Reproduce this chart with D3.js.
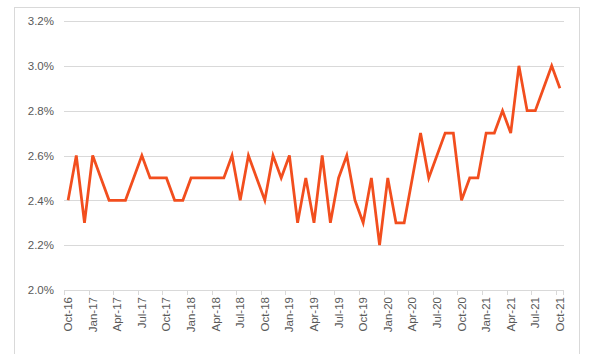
<!DOCTYPE html>
<html>
<head>
<meta charset="utf-8">
<script src="https://cdn.jsdelivr.net/npm/d3@7"></script>
<style>
  html, body { margin: 0; padding: 0; background: #fff; }
  svg { display: block; }
  text { font-family: "Liberation Sans", Arial, sans-serif; fill: #595959; }
</style>
</head>
<body>
<svg id="chart" width="591" height="354"></svg>
<script>
const months = ["Oct-16","Nov-16","Dec-16","Jan-17","Feb-17","Mar-17","Apr-17","May-17","Jun-17","Jul-17","Aug-17","Sep-17",
  "Oct-17","Nov-17","Dec-17","Jan-18","Feb-18","Mar-18","Apr-18","May-18","Jun-18","Jul-18","Aug-18","Sep-18",
  "Oct-18","Nov-18","Dec-18","Jan-19","Feb-19","Mar-19","Apr-19","May-19","Jun-19","Jul-19","Aug-19","Sep-19",
  "Oct-19","Nov-19","Dec-19","Jan-20","Feb-20","Mar-20","Apr-20","May-20","Jun-20","Jul-20","Aug-20","Sep-20",
  "Oct-20","Nov-20","Dec-20","Jan-21","Feb-21","Mar-21","Apr-21","May-21","Jun-21","Jul-21","Aug-21","Sep-21","Oct-21"];
const values = [2.4,2.6,2.3,2.6,2.5,2.4,2.4,2.4,2.5,2.6,2.5,2.5,
  2.5,2.4,2.4,2.5,2.5,2.5,2.5,2.5,2.6,2.4,2.6,2.5,
  2.4,2.6,2.5,2.6,2.3,2.5,2.3,2.6,2.3,2.5,2.6,2.4,
  2.3,2.5,2.2,2.5,2.3,2.3,2.5,2.7,2.5,2.6,2.7,2.7,
  2.4,2.5,2.5,2.7,2.7,2.8,2.7,3.0,2.8,2.8,2.9,3.0,2.9];
const yTicks = [2.0,2.2,2.4,2.6,2.8,3.0,3.2];
const xLabels = months.filter((m, i) => i % 3 === 0);

(function () {
const svg = d3.select("#chart");
const pLeft = 64, pRight = 564, pTop = 21, pBottom = 290;

// outer frame
svg.append("rect").attr("x", 14.5).attr("y", 7.5).attr("width", 565).attr("height", 360)
  .attr("fill", "none").attr("stroke", "#d9d9d9").attr("stroke-width", 1);

const x = d3.scaleBand().domain(months).range([pLeft, pRight]).paddingInner(0).paddingOuter(0);
const y = d3.scaleLinear().domain([2.0, 3.2]).range([pBottom, pTop]);

// gridlines
svg.append("g").selectAll("line").data(yTicks.filter(t => t > 2.0)).join("line")
  .attr("x1", pLeft).attr("x2", pRight)
  .attr("y1", d => Math.round(y(d)) + 0.5).attr("y2", d => Math.round(y(d)) + 0.5)
  .attr("stroke", "#d9d9d9").attr("stroke-width", 1);

// y axis labels
const yAxis = d3.axisLeft(y).tickValues(yTicks).tickFormat(d => d.toFixed(1) + "%").tickSize(0).tickPadding(0);
const gy = svg.append("g").attr("transform", `translate(${pLeft - 10},0)`).call(yAxis);
gy.select(".domain").remove();
gy.selectAll("text").style("font-size", "11.5px").attr("fill", "#595959")
  .style("font-family", "'Liberation Sans', Arial, sans-serif");

// x axis line and ticks
const xAxisG = svg.append("g");
xAxisG.append("line").attr("x1", pLeft).attr("x2", pRight)
  .attr("y1", pBottom + 0.5).attr("y2", pBottom + 0.5).attr("stroke", "#d9d9d9");
xAxisG.selectAll("line.tk").data(xLabels).join("line").attr("class", "tk")
  .attr("x1", d => Math.round(x(d)) + 0.5).attr("x2", d => Math.round(x(d)) + 0.5)
  .attr("y1", pBottom).attr("y2", pBottom + 5).attr("stroke", "#d9d9d9");
xAxisG.append("line")
  .attr("x1", pRight - 0.5).attr("x2", pRight - 0.5)
  .attr("y1", pBottom).attr("y2", pBottom + 5).attr("stroke", "#d9d9d9");
xAxisG.selectAll("text").data(xLabels).join("text")
  .attr("transform", d => `translate(${x(d) + x.bandwidth() / 2 + 4},${pBottom + 7}) rotate(-90)`)
  .attr("text-anchor", "end")
  .style("font-size", "11.5px")
  .text(d => d);

// line
const line = d3.line().x(d => x(d.m) + x.bandwidth() / 2).y(d => y(d.v));
svg.append("path")
  .datum(months.map((m, i) => ({ m, v: values[i] })))
  .attr("d", line)
  .attr("fill", "none")
  .attr("stroke", "#F24E1E")
  .attr("stroke-width", 2.75)
  .attr("stroke-linejoin", "miter")
  .attr("stroke-linecap", "butt");
})();
</script>
</body>
</html>
